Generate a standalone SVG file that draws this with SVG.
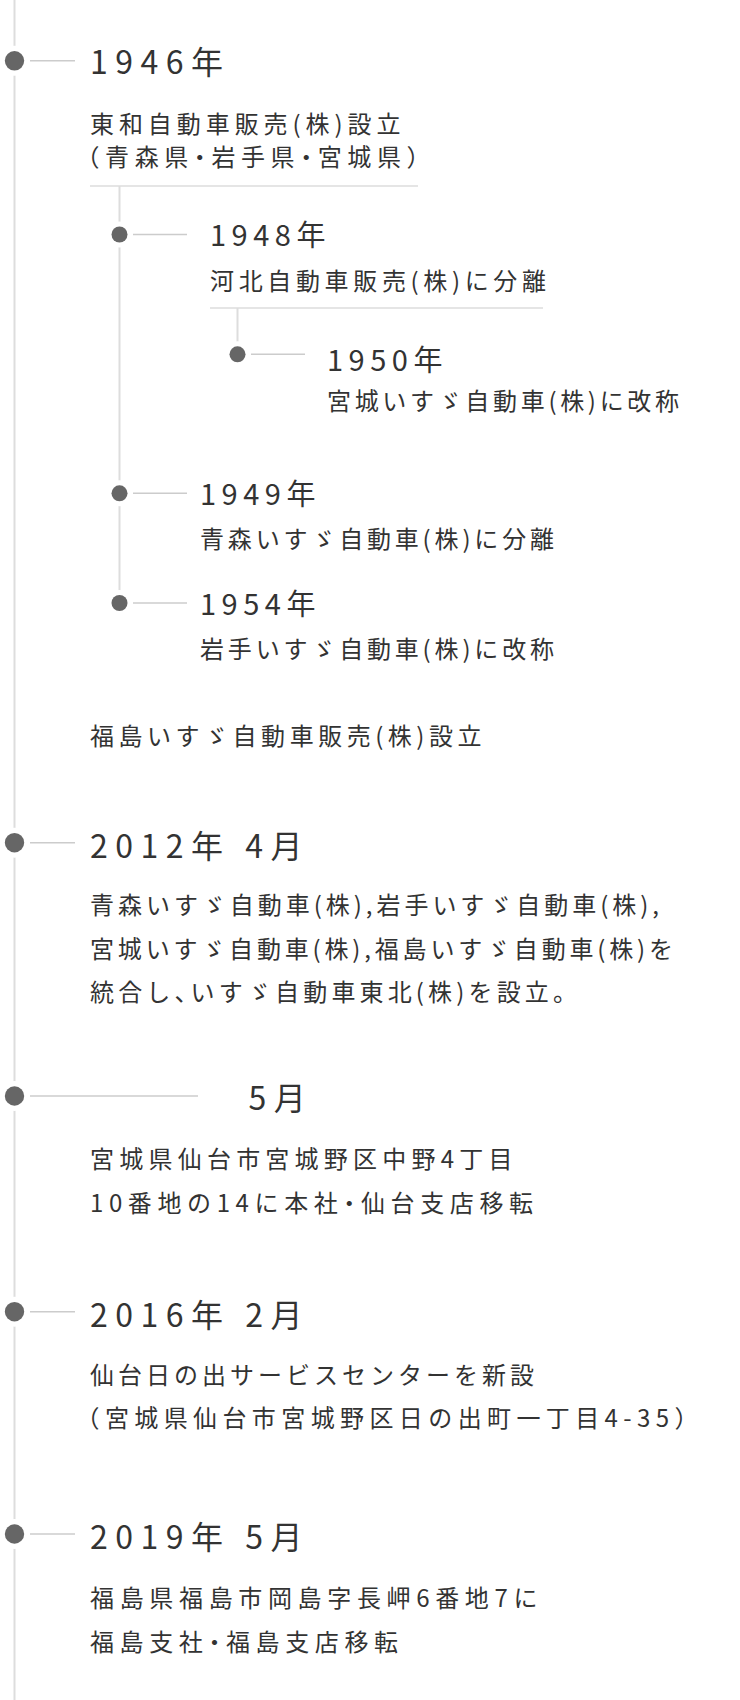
<svg xmlns="http://www.w3.org/2000/svg" width="740" height="1700" viewBox="0 0 740 1700">
<style>
text{font-family:"Noto Sans CJK JP","Noto Sans",sans-serif;fill:#333;font-feature-settings:"halt"}
.h1{font-size:32px;letter-spacing:7.5px}
.h2{font-size:29px;letter-spacing:5.5px}
.b{font-size:24px;letter-spacing:0}
.v{stroke:#ddd;stroke-width:2;fill:none}
.u{stroke:#ddd;stroke-width:1.5;fill:none}
.c{stroke:#ccc;stroke-width:1.5;fill:none}
.mask{fill:#fff}
.dot{fill:#666}
</style>
<rect width="740" height="1700" fill="#fff"/>
<g id="connectors">
<path class="v" d="M14.5 0V1700"/>
<path class="v" d="M119.5 186V603"/>
<path class="v" d="M237.5 308V354"/>
<path class="u" d="M90 186H418"/>
<path class="u" d="M210 308H543"/>
<path class="c" d="M30 60.8H75"/>
<path class="c" d="M133 234.5H187"/>
<path class="c" d="M251 354.3H305"/>
<path class="c" d="M133 493.3H187"/>
<path class="c" d="M133 603H187"/>
<path class="c" d="M30 842.7H75"/>
<path class="c" d="M30 1096H198"/>
<path class="c" d="M30 1311.7H75"/>
<path class="c" d="M30 1534H75"/>
</g>
<g id="n1946">
<circle class="mask" cx="14.5" cy="60.8" r="15"/><circle class="dot" cx="14.5" cy="60.8" r="9.7"/>
<text class="h1" x="90" y="74">1946年</text>
<text class="b" x="90" y="133" textLength="310.5" lengthAdjust="spacing">東和自動車販売(株)設立</text>
<text class="b" x="87.5" y="165.5" textLength="331" lengthAdjust="spacing">（青森県・岩手県・宮城県）</text>
</g>
<g id="n1948">
<circle class="mask" cx="119.5" cy="234.5" r="13"/><circle class="dot" cx="119.5" cy="234.5" r="8"/>
<text class="h2" x="210" y="246">1948年</text>
<text class="b" x="210" y="290" textLength="336" lengthAdjust="spacing">河北自動車販売(株)に分離</text>
</g>
<g id="n1950">
<circle class="mask" cx="237.5" cy="354.3" r="13"/><circle class="dot" cx="237.5" cy="354.3" r="8"/>
<text class="h2" x="327" y="371">1950年</text>
<text class="b" x="327" y="410" textLength="352" lengthAdjust="spacing">宮城いすゞ自動車(株)に改称</text>
</g>
<g id="n1949">
<circle class="mask" cx="119.5" cy="493.3" r="13"/><circle class="dot" cx="119.5" cy="493.3" r="8"/>
<text class="h2" x="200" y="505">1949年</text>
<text class="b" x="200" y="547.5" textLength="354" lengthAdjust="spacing">青森いすゞ自動車(株)に分離</text>
</g>
<g id="n1954">
<circle class="mask" cx="119.5" cy="603" r="13"/><circle class="dot" cx="119.5" cy="603" r="8"/>
<text class="h2" x="200" y="615">1954年</text>
<text class="b" x="200" y="657.5" textLength="354" lengthAdjust="spacing">岩手いすゞ自動車(株)に改称</text>
</g>
<g id="fukushima">
<text class="b" x="90" y="744.5" textLength="391.5" lengthAdjust="spacing">福島いすゞ自動車販売(株)設立</text>
</g>
<g id="n2012-4">
<circle class="mask" cx="14.5" cy="842.7" r="15"/><circle class="dot" cx="14.5" cy="842.7" r="9.7"/>
<text class="h1" x="90" y="857.7">2012年 4月</text>
<text class="b" x="90" y="914" textLength="569" lengthAdjust="spacing">青森いすゞ自動車(株),岩手いすゞ自動車(株),</text>
<text class="b" x="90" y="957.5" textLength="583" lengthAdjust="spacing">宮城いすゞ自動車(株),福島いすゞ自動車(株)を</text>
<text class="b" x="90" y="1001" textLength="475" lengthAdjust="spacing">統合し、いすゞ自動車東北(株)を設立。</text>
</g>
<g id="n2012-5">
<circle class="mask" cx="14.5" cy="1096" r="15"/><circle class="dot" cx="14.5" cy="1096" r="9.7"/>
<text class="h1" x="248.5" y="1110">5月</text>
<text class="b" x="90" y="1168" textLength="422.5" lengthAdjust="spacing">宮城県仙台市宮城野区中野4丁目</text>
<text class="b" x="90" y="1212" textLength="443" lengthAdjust="spacing">10番地の14に本社・仙台支店移転</text>
</g>
<g id="n2016">
<circle class="mask" cx="14.5" cy="1311.7" r="15"/><circle class="dot" cx="14.5" cy="1311.7" r="9.7"/>
<text class="h1" x="90" y="1326.7">2016年 2月</text>
<text class="b" x="90" y="1383.5" textLength="444" lengthAdjust="spacing">仙台日の出サービスセンターを新設</text>
<text class="b" x="87.5" y="1427" textLength="599" lengthAdjust="spacing">（宮城県仙台市宮城野区日の出町一丁目4-35）</text>
</g>
<g id="n2019">
<circle class="mask" cx="14.5" cy="1534" r="15"/><circle class="dot" cx="14.5" cy="1534" r="9.7"/>
<text class="h1" x="90" y="1549">2019年 5月</text>
<text class="b" x="90" y="1606.5" textLength="447.5" lengthAdjust="spacing">福島県福島市岡島字長岬6番地7に</text>
<text class="b" x="90" y="1650.5" textLength="308" lengthAdjust="spacing">福島支社・福島支店移転</text>
</g>
</svg>
